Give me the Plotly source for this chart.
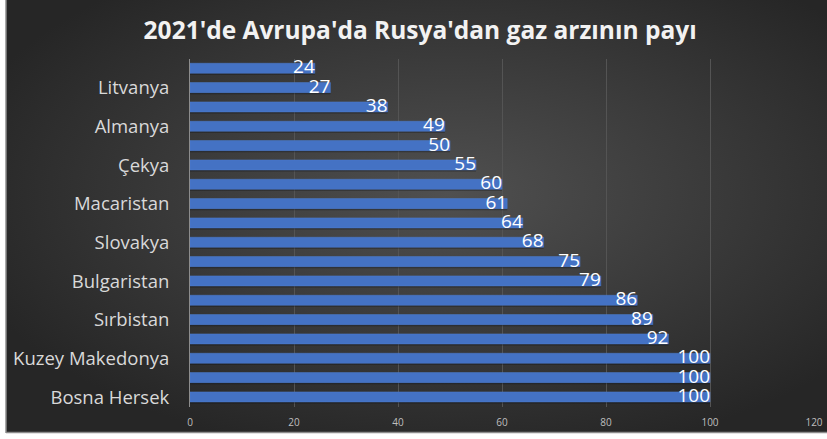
import base64
import plotly.graph_objects as go

# Data (top to bottom)
countries = ["Fransa", "Litvanya", "İtalya", "Almanya", "Polonya", "Çekya",
             "Hırvatistan", "Macaristan", "Avusturya", "Slovakya", "Slovenya",
             "Bulgaristan", "Letonya", "Sırbistan", "Finlandiya",
             "Kuzey Makedonya", "Moldova", "Bosna Hersek"]
share = [24, 27, 38, 49, 50, 55, 60, 61, 64, 68, 75, 79, 86, 89, 92, 100, 100, 100]
shown_labels = countries[1::2]
x_ticks = [0, 20, 40, 60, 80, 100, 120]
title = "2021'de Avrupa'da Rusya'dan gaz arzının payı"

W, H = 827, 439
L, R, T, B = 190, 13, 59, 32
pw, ph = W - L - R, H - T - B

svg = f'''<svg xmlns="http://www.w3.org/2000/svg" width="{W}" height="{H}" viewBox="0 0 {W} {H}">
<defs><radialGradient id="g" cx="0.54" cy="0.45" r="0.62">
<stop offset="0" stop-color="#505050"/><stop offset="1" stop-color="#262626"/></radialGradient></defs>
<rect x="0" y="0" width="{W}" height="{H}" fill="#ffffff"/>
<rect x="6" y="0" width="{W-6}" height="432" fill="url(#g)"/>
<line x1="6" y1="0" x2="6" y2="433" stroke="#8c8c8c" stroke-width="1.5"/>
<line x1="6" y1="432.5" x2="{W}" y2="432.5" stroke="#8c8c8c" stroke-width="1.5"/>
</svg>'''
src = "data:image/svg+xml;base64," + base64.b64encode(svg.encode()).decode()

FONT = "Open Sans"
fig = go.Figure()
# soft shadow under bars
fig.add_trace(go.Bar(
    x=share, y=countries, orientation="h",
    marker=dict(color="rgba(0,0,0,0.3)", line=dict(width=0)),
    width=0.52, offset=-0.2, hoverinfo="skip"))
fig.add_trace(go.Bar(
    x=share, y=countries, orientation="h",
    marker=dict(color="#4472c4", line=dict(color="#4f7fd0", width=0.5)),
    width=0.52, offset=-0.28, hoverinfo="skip"))
fig.add_trace(go.Scatter(
    x=share, y=countries, mode="text", text=[str(v) for v in share],
    textposition="middle left",
    textfont=dict(color="#ffffff", size=19, family=FONT),
    hoverinfo="skip"))

fig.update_layout(
    template="none",
    width=W, height=H,
    margin=dict(l=L, r=R, t=T, b=B, autoexpand=False),
    paper_bgcolor="#2e2e2e", plot_bgcolor="rgba(0,0,0,0)",
    showlegend=False, barmode="overlay",
    title=dict(text=f"<b>{title}</b>", x=0.508, xanchor="center", y=0.93, yanchor="middle",
               font=dict(family=FONT, size=24.5, color="#f2f2f2")),
    images=[dict(source=src, xref="paper", yref="paper",
                 x=-L / pw, y=1 + T / ph, sizex=W / pw, sizey=H / ph,
                 xanchor="left", yanchor="top", sizing="stretch", layer="below")],
    xaxis=dict(range=[0, 120], tickvals=x_ticks, showgrid=True, gridcolor="#545454",
               gridwidth=1, zeroline=False, showline=False, ticks="", automargin=False,
               ticklabelstandoff=8,
               tickfont=dict(color="#bfbfbf", size=10, family=FONT)),
    yaxis=dict(range=[len(countries) - 0.5, -0.5], tickmode="array", tickvals=shown_labels,
               ticktext=shown_labels, showgrid=False, zeroline=False, automargin=False,
               showline=True, linecolor="#8c8c8c", linewidth=1, ticks="",
               ticklabelstandoff=16,
               tickfont=dict(color="#d9d9d9", size=18.5, family=FONT)),
)
fig.write_html("out.html", config={"displayModeBar": False},
               post_script="document.body.style.margin='0';document.body.style.overflow='hidden';")
